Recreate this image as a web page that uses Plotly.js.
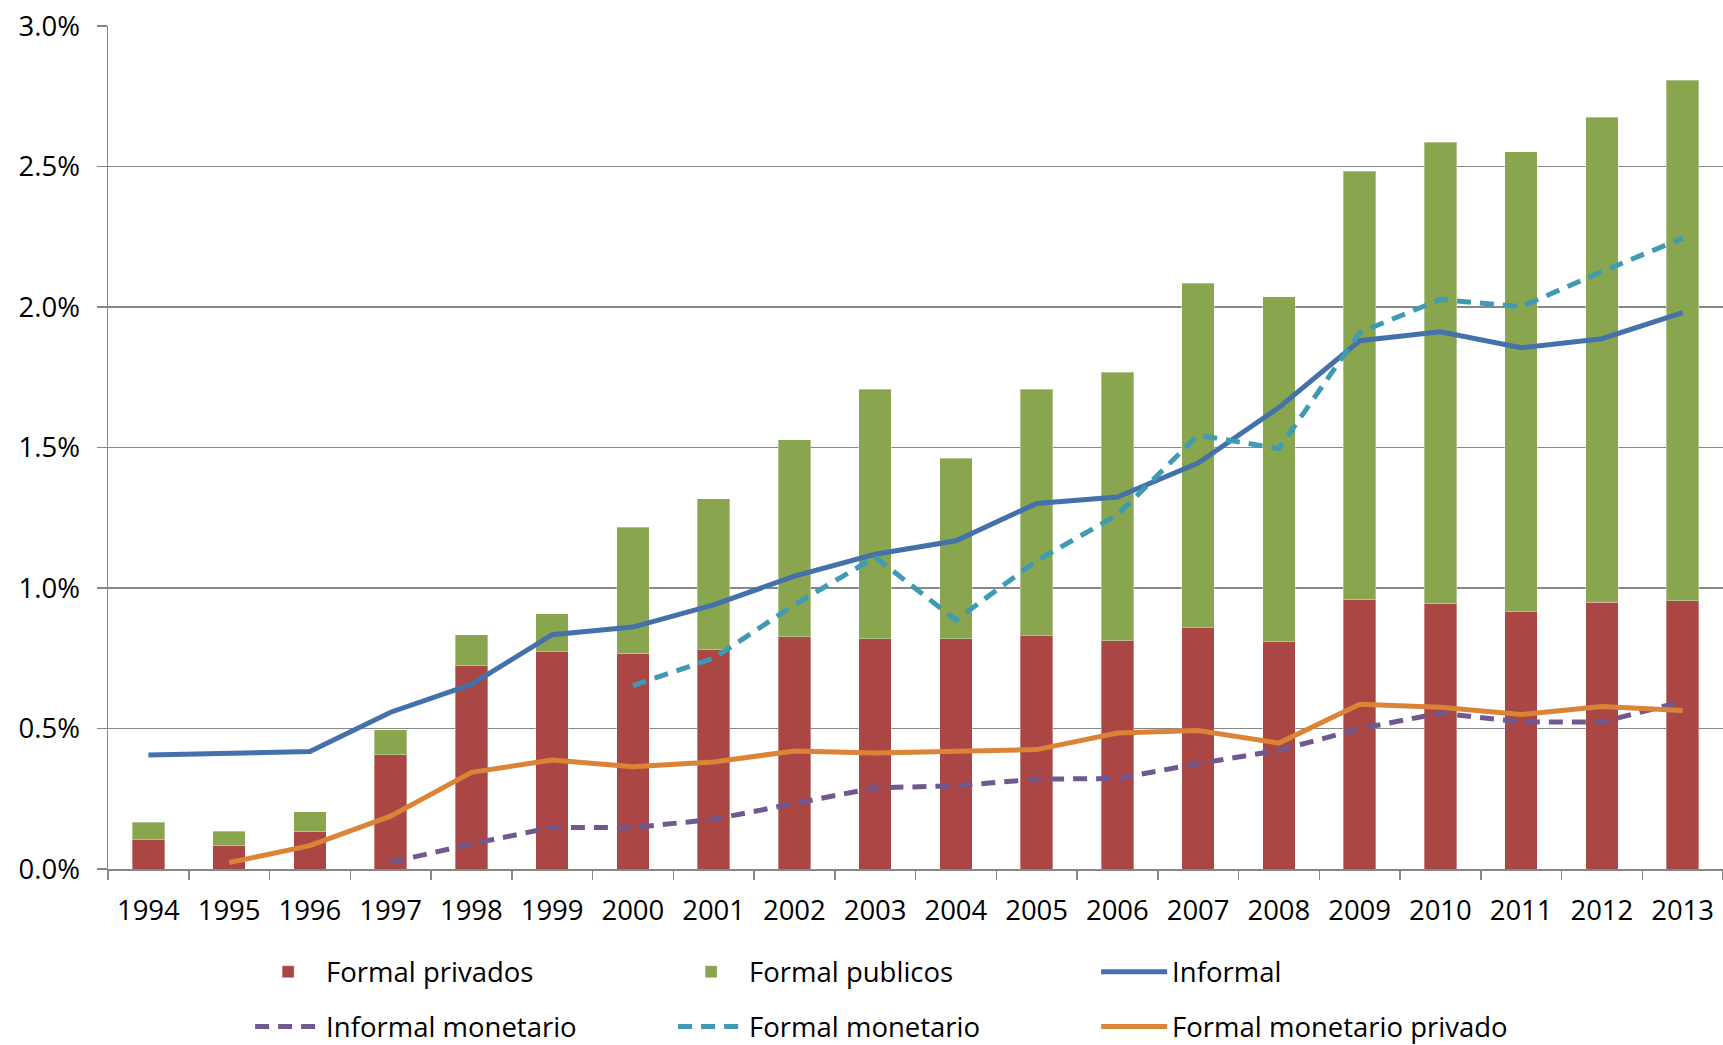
<!DOCTYPE html>
<html>
<head>
<meta charset="utf-8">
<script src="https://cdn.plot.ly/plotly-3.0.1.min.js"></script>
<style>
  html, body { margin: 0; padding: 0; background: #ffffff; }
  #chart { width: 1723px; height: 1045px; }
</style>
</head>
<body>
<div id="chart"></div>
<script>
// Years (categories)
const years = ["1994","1995","1996","1997","1998","1999","2000","2001","2002","2003",
               "2004","2005","2006","2007","2008","2009","2010","2011","2012","2013"];

// Stacked bars (% of GDP)
const formalPrivados = [0.104, 0.082, 0.135, 0.406, 0.723, 0.773, 0.768, 0.781, 0.826, 0.819,
                        0.819, 0.830, 0.812, 0.858, 0.809, 0.960, 0.946, 0.915, 0.950, 0.954];
const formalPublicos = [0.062, 0.053, 0.068, 0.090, 0.111, 0.136, 0.448, 0.537, 0.702, 0.889,
                        0.643, 0.878, 0.955, 1.226, 1.228, 1.523, 1.640, 1.638, 1.726, 1.853];

// Lines (% of GDP)
const informal = [0.406, 0.410, 0.418, 0.558, 0.657, 0.834, 0.861, 0.940, 1.042, 1.120,
                  1.168, 1.301, 1.324, 1.445, 1.642, 1.880, 1.912, 1.855, 1.887, 1.980];
const informalMonetario = [null, null, null, 0.024, 0.089, 0.148, 0.147, 0.177, 0.232, 0.289,
                           0.296, 0.320, 0.322, 0.375, 0.422, 0.499, 0.555, 0.523, 0.523, 0.596];
const formalMonetario = [null, null, null, null, null, null, 0.653, 0.750, 0.940, 1.110,
                         0.886, 1.097, 1.260, 1.544, 1.496, 1.909, 2.027, 2.001, 2.126, 2.245];
const formalMonetarioPrivado = [null, 0.023, 0.083, 0.188, 0.344, 0.388, 0.364, 0.381, 0.420, 0.413,
                                0.420, 0.425, 0.484, 0.493, 0.448, 0.586, 0.576, 0.550, 0.578, 0.564];

const FONT = "'Open Sans', 'Noto Sans', sans-serif";
const FS = 27.5;
const GRID = "#878787";

const traces = [
  { type: "bar", name: "Formal privados", x: years, y: formalPrivados,
    marker: { color: "#AA4644", line: { color: "rgba(255,255,255,0.35)", width: 1 } },
    legend: "legend" },
  { type: "bar", name: "Formal publicos", x: years, y: formalPublicos,
    marker: { color: "#89A54E", line: { color: "rgba(255,255,255,0.35)", width: 1 } },
    legend: "legend" },
  { type: "scatter", mode: "lines", name: "Informal", x: years, y: informal,
    line: { color: "#4571AB", width: 5 }, legend: "legend" },
  { type: "scatter", mode: "lines", name: "Informal monetario", x: years, y: informalMonetario,
    line: { color: "#71588F", width: 5, dash: "14px,9px" }, legend: "legend2" },
  { type: "scatter", mode: "lines", name: "Formal monetario", x: years, y: formalMonetario,
    line: { color: "#3F9AB4", width: 5, dash: "14px,9px" }, legend: "legend2" },
  { type: "scatter", mode: "lines", name: "Formal monetario privado", x: years, y: formalMonetarioPrivado,
    line: { color: "#DB8437", width: 5 }, legend: "legend2" }
];

const legendCommon = {
  orientation: "h", xanchor: "left", yanchor: "middle", x: 0.088,
  font: { family: FONT, size: FS, color: "#000000" },
  bgcolor: "rgba(0,0,0,0)", borderwidth: 0,
  entrywidth: 342, entrywidthmode: "pixels",
  itemwidth: 66, traceorder: "normal", itemclick: false, itemdoubleclick: false
};

const layout = {
  width: 1723, height: 1045,
  margin: { l: 108, r: 0, t: 26, b: 176, autoexpand: false },
  paper_bgcolor: "#ffffff", plot_bgcolor: "#ffffff",
  barmode: "stack", bargap: 0.6,
  font: { family: FONT, size: FS, color: "#000000" },
  showlegend: true,
  legend: Object.assign({}, legendCommon, { y: -0.122 }),
  legend2: Object.assign({}, legendCommon, { y: -0.187 }),
  xaxis: {
    type: "category", range: [-0.5, 19.5],
    showline: true, linecolor: GRID, linewidth: 1.5,
    ticks: "outside", tickson: "boundaries", ticklen: 9, tickcolor: GRID, tickwidth: 1.5,
    showgrid: false, ticklabelstandoff: 16,
    tickfont: { family: FONT, size: FS, color: "#000000" }
  },
  yaxis: {
    range: [0, 3.0], dtick: 0.5, tick0: 0,
    tickformat: ".1f", ticksuffix: "%",
    showline: true, linecolor: GRID, linewidth: 1.5,
    ticks: "outside", ticklen: 10, tickcolor: GRID, tickwidth: 1.5,
    showgrid: true, gridcolor: GRID, gridwidth: 1.5, zeroline: false,
    ticklabelstandoff: 11,
    tickfont: { family: FONT, size: FS, color: "#000000" }
  }
};

Plotly.newPlot("chart", traces, layout, { displayModeBar: false, staticPlot: true });
</script>
</body>
</html>
